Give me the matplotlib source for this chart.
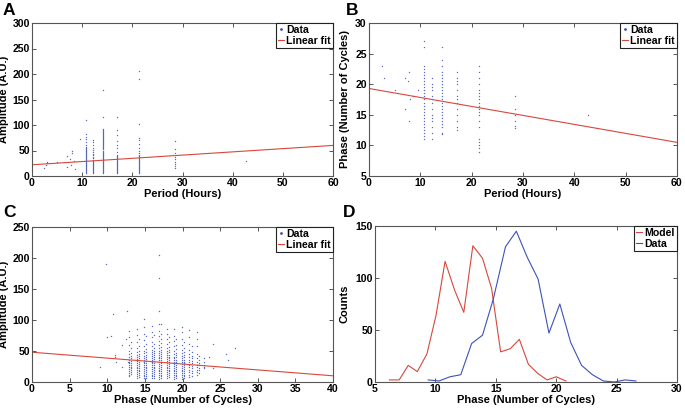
import numpy as np
import matplotlib
matplotlib.use("Agg")
import matplotlib.pyplot as plt
from matplotlib.lines import Line2D

plt.rcParams['font.family'] = ['Liberation Sans', 'DejaVu Sans']
plt.rcParams['font.weight'] = 'bold'

# ---- Panel A: period vs amplitude ----
a_col_periods = [10.7, 12.2, 14.2, 17.0, 21.3, 28.5]
a_col_amps = [
    [110, 82, 77, 72, 66, 60, 57, 55, 53, 51, 49, 47, 45, 43, 41, 39, 37, 35, 33, 31,
     29, 27, 25, 23, 21, 19, 17, 15, 13, 11, 9, 7, 5],
    [70, 66, 60, 55, 51, 47, 44, 41, 38, 35, 32, 30, 28, 26, 24, 22, 20, 18, 16, 14,
     12, 10, 8, 6],
    [168, 115, 93, 90, 88, 86, 84, 82, 80, 78, 76, 74, 72, 70, 68, 66, 64, 62, 60, 58,
     56, 54, 52, 50, 48, 46, 44, 42, 40, 38, 36, 34, 32, 30, 28, 26, 24, 22, 20, 18,
     16, 14, 12, 10, 8, 6],
    [115, 90, 80, 68, 60, 54, 48, 42, 40, 38, 36, 34, 32, 30, 28, 26, 24, 22, 20, 18,
     16, 14, 12, 10, 8, 6],
    [205, 191, 101, 75, 70, 62, 55, 50, 46, 42, 40, 38, 36, 34, 32, 30, 28, 26, 24, 22,
     20, 18, 16, 14, 12, 10, 8, 6],
    [68, 52, 45, 38, 33, 28, 24, 20, 16],
]
a_extra_period = [2.3, 2.8, 2.9, 3.0, 5.0, 7.0, 7.0, 7.5, 7.8, 7.9, 8.0, 8.3, 8.5, 9.5, 42.7]
a_extra_amp = [15, 22, 27, 25, 27, 17, 40, 33, 22, 50, 45, 30, 13, 73, 30]
a_fit = (22.0, 0.633)   # intercept, slope

# ---- Panel B: period vs phase ----
b_col_periods = [10.8, 12.3, 14.3, 17.2, 21.5, 28.5]
b_col_phase = [
    [27, 26, 23, 22.5, 22, 21.5, 21, 20.5, 20, 19.5, 19, 18.5, 18, 17.5, 17, 16.5, 16,
     15.5, 15, 14.5, 14, 13.5, 13, 12.5, 12, 11.5, 11],
    [21, 20, 19.5, 19, 18, 17.5, 17, 16, 15, 14.5, 14, 13, 12, 11],
    [26, 24, 23, 22, 21.5, 21, 20.5, 20, 19.5, 19, 18.5, 18, 17.5, 17, 16.5, 16, 15.5,
     15, 14.5, 14, 13.5, 13, 12, 11.8],
    [22, 21, 20.5, 20, 19, 18, 17.5, 17, 16, 15, 14, 13, 12.5],
    [23, 22, 21, 20, 19, 18.5, 18, 17.5, 17, 16.5, 16, 15.5, 15, 14, 13, 11, 10.5, 10,
     9.5, 9],
    [18, 16, 15, 14, 13.2, 12.8],
]
b_extra_period = [2.5, 3.0, 5.0, 7.0, 7.0, 7.5, 7.8, 7.8, 8.0, 8.5, 9.5, 42.7]
b_extra_phase = [23, 21, 19, 21, 16, 20.5, 22, 14, 17.5, 18, 19, 15]
b_fit = (19.3, -0.1467)

# ---- Panel C: phase vs amplitude (two sub-columns per phase value) ----
c_col_phase = [12.9, 13.9, 14.9, 15.9, 16.9, 17.9, 18.9, 19.9, 20.9, 21.9, 22.9]
c_col_amps = [
    [82, 72, 60, 50, 45, 40, 36, 33, 30, 27, 24, 21, 18, 15, 12, 9],
    [85, 76, 65, 55, 48, 44, 40, 37, 34, 31, 28, 25, 22, 19, 16, 13, 10, 7],
    [101, 88, 78, 68, 58, 50, 46, 42, 39, 36, 33, 30, 27, 24, 21, 18, 15, 12, 9, 6],
    [90, 80, 72, 65, 58, 52, 48, 45, 42, 39, 36, 33, 30, 27, 24, 21, 18, 15, 12, 9, 6],
    [205, 168, 115, 93, 82, 74, 66, 60, 55, 50, 47, 44, 41, 38, 35, 32, 29, 26, 23, 20,
     17, 14, 11, 8, 5],
    [85, 78, 70, 62, 55, 50, 46, 43, 40, 37, 34, 31, 28, 25, 22, 19, 16, 13, 10, 7],
    [85, 75, 66, 58, 50, 45, 41, 38, 35, 32, 29, 26, 23, 20, 17, 14, 11, 8, 5],
    [88, 80, 70, 60, 52, 46, 42, 38, 35, 32, 29, 26, 23, 20, 17, 14, 11, 8, 5],
    [84, 72, 62, 52, 45, 40, 36, 32, 28, 24, 20, 16, 12, 8],
    [80, 70, 58, 45, 38, 33, 28, 24, 20, 16, 12],
    [38, 32, 28, 25, 22],
]
c_col2_phase = [13.2, 14.2, 15.2, 16.2, 17.2, 18.2, 19.2, 20.2, 21.2, 22.2]
c_col2_amps = [
    [64, 55, 47, 42, 38, 34, 31, 28, 25, 22, 19, 16, 13],
    [70, 58, 50, 45, 42, 38, 35, 32, 29, 26, 23, 20, 17, 14, 11, 8],
    [75, 62, 54, 49, 44, 40, 37, 34, 31, 28, 25, 22, 19, 16, 13, 10, 7],
    [76, 62, 55, 50, 46, 43, 40, 37, 34, 31, 28, 25, 22, 19, 16, 13, 10, 7],
    [94, 78, 70, 63, 57, 52, 48, 45, 42, 39, 36, 33, 30, 27, 24, 21, 18, 15, 12, 9, 6],
    [72, 64, 57, 52, 48, 44, 41, 38, 35, 32, 29, 26, 23, 20, 17, 14, 11, 8],
    [70, 60, 53, 47, 43, 40, 36, 33, 30, 27, 24, 21, 18, 15, 12, 9, 6],
    [64, 55, 48, 44, 40, 36, 33, 30, 27, 24, 21, 18, 15, 12, 9, 6],
    [58, 48, 42, 38, 34, 30, 26, 22, 18, 14, 10],
    [42, 36, 31, 27, 23, 19, 15],
]
c_extra_phase = [9.0, 9.8, 10.0, 10.5, 10.8, 11.0, 11.0, 11.2, 12.0, 12.0, 12.5, 12.6,
                 12.8, 23.5, 24.0, 24.0, 25.8, 26.0, 27.0]
c_extra_amp = [25, 191, 72, 75, 110, 44, 40, 32, 60, 25, 70, 115, 32, 40, 62, 22, 45, 35, 55]
c_fit = (48.0, -0.95)

# ---- Panel D: phase histograms ----
d_model_x = [6.2, 7.0, 7.75, 8.5, 9.3, 10.05, 10.8, 11.6, 12.35, 13.1, 13.9, 14.65,
             15.4, 16.2, 16.95, 17.7, 18.5, 19.25, 20.0, 20.8]
d_model_y = [2, 2, 16, 10, 27, 64, 116, 88, 67, 131, 119, 90, 29, 32, 41, 17, 8, 2, 5, 1]
d_data_x = [9.4, 10.3, 11.2, 12.1, 13.0, 13.9, 14.8, 15.8, 16.7, 17.6, 18.5, 19.4,
            20.3, 21.2, 22.1, 23.0, 23.9, 24.8, 25.7, 26.6]
d_data_y = [2, 1, 5, 7, 37, 45, 80, 130, 145, 120, 99, 47, 75, 38, 16, 7, 1, 0, 2, 1]

BLUE = '#3d52b8'
RED = '#d8473c'
W, H = 685, 409
FS = 7.6


def ax_at(fig, l, t, r, b):
    return fig.add_axes([l / W, 1 - b / H, (r - l) / W, (b - t) / H])


def style(ax, ylab_x):
    for s in ax.spines.values():
        s.set_color('#555555')
        s.set_linewidth(0.8)
    ax.tick_params(direction='in', top=True, right=True, length=3, width=0.7,
                   labelsize=FS, pad=1.5, colors='#555555', labelcolor='black')
    for lab in ax.get_xticklabels() + ax.get_yticklabels():
        lab.set_fontweight('bold')
    ax.yaxis.set_label_coords(ylab_x, 0.5)


def scatter_cols(ax, xs, cols, ex=None, ey=None):
    for x, ys in zip(xs, cols):
        ax.plot([x] * len(ys), ys, '.', color=BLUE, ms=2, mew=0, alpha=0.85)
    if ex is not None:
        ax.plot(ex, ey, '.', color=BLUE, ms=2, mew=0, alpha=0.85)


def fit_line(ax, fit, xmax):
    xx = np.array([0, xmax])
    ax.plot(xx, fit[0] + fit[1] * xx, color=RED, lw=0.8)


def legend(ax, labels, kinds):
    handles = []
    for lab, k in zip(labels, kinds):
        if k == 'dot':
            handles.append(Line2D([], [], ls='none', marker='.', ms=2, color=BLUE))
        else:
            handles.append(Line2D([], [], color=k, lw=0.8))
    leg = ax.legend(handles, labels, loc='upper right', borderaxespad=0,
                    handlelength=0.6, handletextpad=0.2, borderpad=0.2,
                    labelspacing=0.05, fancybox=False, framealpha=1,
                    prop={'size': FS, 'weight': 'bold'})
    leg.get_frame().set_edgecolor('#222222')
    leg.get_frame().set_linewidth(0.8)


def labels(ax, xl, yl):
    ax.set_xlabel(xl, fontsize=FS + 0.4, fontweight='bold', labelpad=1)
    ax.set_ylabel(yl, fontsize=FS + 0.4, fontweight='bold')


fig = plt.figure(figsize=(6.85, 4.09), dpi=100)

# A
ax = ax_at(fig, 32, 23, 333, 176)
scatter_cols(ax, a_col_periods, a_col_amps, a_extra_period, a_extra_amp)
fit_line(ax, a_fit, 60)
ax.set_xlim(0, 60)
ax.set_ylim(0, 300)
ax.set_xticks(range(0, 61, 10))
ax.set_yticks(range(0, 301, 50))
labels(ax, 'Period (Hours)', 'Amplitude (A.U.)')
style(ax, -0.078)
legend(ax, ['Data', 'Linear fit'], ['dot', RED])

# B
ax = ax_at(fig, 369, 23, 677, 176)
scatter_cols(ax, b_col_periods, b_col_phase, b_extra_period, b_extra_phase)
fit_line(ax, b_fit, 60)
ax.set_xlim(0, 60)
ax.set_ylim(5, 30)
ax.set_xticks(range(0, 61, 10))
ax.set_yticks(range(5, 31, 5))
labels(ax, 'Period (Hours)', 'Phase (Number of Cycles)')
style(ax, -0.062)
legend(ax, ['Data', 'Linear fit'], ['dot', RED])

# C
ax = ax_at(fig, 32, 227, 333, 382)
scatter_cols(ax, c_col_phase, c_col_amps, c_extra_phase, c_extra_amp)
scatter_cols(ax, c_col2_phase, c_col2_amps)
fit_line(ax, c_fit, 40)
ax.set_xlim(0, 40)
ax.set_ylim(0, 250)
ax.set_xticks(range(0, 41, 5))
ax.set_yticks(range(0, 251, 50))
labels(ax, 'Phase (Number of Cycles)', 'Amplitude (A.U.)')
style(ax, -0.078)
legend(ax, ['Data', 'Linear fit'], ['dot', RED])

# D
ax = ax_at(fig, 375, 226, 677, 382)
ax.plot(d_model_x, d_model_y, color=RED, lw=0.8)
ax.plot(d_data_x, d_data_y, color=BLUE, lw=0.8)
ax.set_xlim(5, 30)
ax.set_ylim(0, 150)
ax.set_xticks(range(5, 31, 5))
ax.set_yticks(range(0, 151, 50))
labels(ax, 'Phase (Number of Cycles)', 'Counts')
style(ax, -0.083)
legend(ax, ['Model', 'Data'], [RED, BLUE])

for letter, x, y in [('A', 3, 3), ('B', 346, 3), ('C', 3, 205), ('D', 343, 205)]:
    fig.text(x / W, 1 - y / H, letter, fontsize=12.5, fontweight='bold', va='top', ha='left')

fig.savefig('out.png', dpi=100)
